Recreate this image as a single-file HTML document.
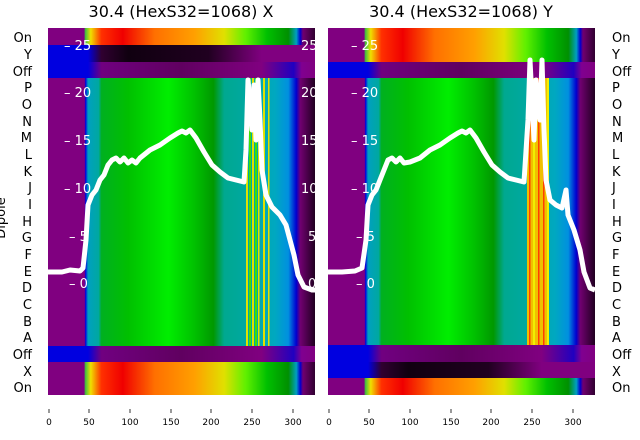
<!DOCTYPE html>
<html><head><meta charset="utf-8"><style>
html,body{margin:0;padding:0;background:#fff;}
svg{display:block;font-family:"DejaVu Sans","Liberation Sans",sans-serif;}
</style></head><body>
<svg width="640" height="440" viewBox="0 0 640 440" xmlns="http://www.w3.org/2000/svg">
<defs>
<linearGradient id="spec" x1="0" x2="1" y1="0" y2="0">
<stop offset="0" stop-color="#800080"/><stop offset="0.135" stop-color="#800080"/>
<stop offset="0.14" stop-color="#40c040"/><stop offset="0.16" stop-color="#f0e000"/>
<stop offset="0.2" stop-color="#ff3000"/><stop offset="0.28" stop-color="#f00000"/>
<stop offset="0.4" stop-color="#ff7000"/><stop offset="0.55" stop-color="#ffa000"/>
<stop offset="0.66" stop-color="#e0e000"/><stop offset="0.74" stop-color="#60f000"/>
<stop offset="0.82" stop-color="#00c000"/><stop offset="0.9" stop-color="#009000"/>
<stop offset="0.93" stop-color="#00a0c0"/><stop offset="0.945" stop-color="#0000d0"/>
<stop offset="0.955" stop-color="#700070"/><stop offset="1" stop-color="#300030"/>
</linearGradient>
<linearGradient id="main" x1="0" x2="1" y1="0" y2="0">
<stop offset="0" stop-color="#800080"/><stop offset="0.137" stop-color="#800080"/>
<stop offset="0.14" stop-color="#0000e0"/><stop offset="0.15" stop-color="#00a0c0"/>
<stop offset="0.19" stop-color="#00a8a0"/><stop offset="0.2" stop-color="#00b020"/>
<stop offset="0.3" stop-color="#00c000"/><stop offset="0.45" stop-color="#00ee00"/>
<stop offset="0.55" stop-color="#00c000"/><stop offset="0.62" stop-color="#009800"/>
<stop offset="0.66" stop-color="#00a890"/><stop offset="0.74" stop-color="#00a8a0"/>
<stop offset="0.85" stop-color="#00a8c0"/><stop offset="0.9" stop-color="#0090e0"/>
<stop offset="0.93" stop-color="#0000d0"/><stop offset="0.945" stop-color="#700070"/>
<stop offset="1" stop-color="#200020"/>
</linearGradient>
<linearGradient id="off" x1="0" x2="1" y1="0" y2="0">
<stop offset="0" stop-color="#0000e0"/><stop offset="0.15" stop-color="#0000e0"/>
<stop offset="0.2" stop-color="#700080"/><stop offset="0.5" stop-color="#600060"/>
<stop offset="0.8" stop-color="#800080"/><stop offset="0.92" stop-color="#2000c0"/>
<stop offset="0.95" stop-color="#800090"/><stop offset="1" stop-color="#800080"/>
</linearGradient>
<linearGradient id="blk" x1="0" x2="1" y1="0" y2="0">
<stop offset="0" stop-color="#0000e0"/><stop offset="0.15" stop-color="#0000e0"/>
<stop offset="0.2" stop-color="#300030"/><stop offset="0.3" stop-color="#100010"/>
<stop offset="0.6" stop-color="#200020"/><stop offset="0.8" stop-color="#800080"/>
<stop offset="1" stop-color="#800080"/>
</linearGradient>
</defs>
<!-- titles -->
<text x="181" y="17" font-size="16" text-anchor="middle">30.4 (HexS32=1068) X</text>
<text x="461" y="17" font-size="16" text-anchor="middle">30.4 (HexS32=1068) Y</text>
<!-- left panel -->
<rect x="48" y="28" width="267" height="17" fill="url(#spec)"/>
<rect x="48" y="45" width="267" height="17" fill="url(#blk)"/>
<rect x="48" y="62" width="267" height="16" fill="url(#off)"/>
<rect x="48" y="78" width="267" height="268" fill="url(#main)"/>
<g fill="#e0e000"><rect x="246" y="78" width="2" height="268"/><rect x="252" y="78" width="2" height="268"/><rect x="258" y="78" width="1.5" height="268"/><rect x="263" y="78" width="2" height="268"/><rect x="268" y="78" width="1.5" height="268"/></g>
<g fill="#40e000"><rect x="249" y="78" width="2" height="268"/><rect x="255" y="78" width="2" height="268"/></g>
<rect x="48" y="346" width="267" height="16" fill="url(#off)"/>
<rect x="48" y="362" width="267" height="33" fill="url(#spec)"/>
<!-- right panel -->
<rect x="328" y="28" width="267" height="34" fill="url(#spec)"/>
<rect x="328" y="62" width="267" height="16" fill="url(#off)"/>
<rect x="328" y="78" width="267" height="267" fill="url(#main)"/>
<rect x="527" y="78" width="22" height="267" fill="#f0c000"/>
<g fill="#ff4000"><rect x="529" y="78" width="1.5" height="267"/><rect x="538" y="78" width="1.5" height="267"/><rect x="543" y="78" width="1.5" height="267"/></g>
<g fill="#f0f000"><rect x="533" y="78" width="2" height="267"/><rect x="547" y="78" width="2" height="267"/></g>
<rect x="328" y="345" width="267" height="17" fill="url(#off)"/>
<rect x="328" y="362" width="267" height="16" fill="url(#blk)"/>
<rect x="328" y="378" width="267" height="17" fill="url(#spec)"/>
<!-- white curves -->
<polyline fill="none" stroke="#fff" stroke-width="5" stroke-linejoin="round" points="48,272 62,272 70,270 80,271 83,268 86,240 88,205 92,195 96,190 100,180 104,175 108,165 112,160 116,158 120,162 124,158 128,163 132,160 136,163 140,158 150,150 160,145 170,138 178,133 182,131 186,133 190,130 196,138 204,152 212,165 220,172 228,178 236,180 244,182 246,150 248,80 250,100 252,130 254,85 256,140 258,80 260,120 262,170 266,195 272,207 280,215 286,225 290,240 294,255 298,275 304,287 312,290 315,290"/>
<polyline fill="none" stroke="#fff" stroke-width="5" stroke-linejoin="round" points="328,272 342,272 355,271 362,268 366,240 368,205 372,195 376,190 380,180 384,170 388,160 392,158 396,162 400,158 404,163 410,162 420,158 430,150 440,145 450,138 458,133 462,131 466,133 470,130 476,138 484,152 492,165 500,172 508,178 516,180 524,182 528,120 530,60 532,100 534,140 536,80 538,110 540,120 542,60 544,130 546,180 550,200 556,205 562,208 566,190 568,215 574,230 580,250 584,272 590,288 595,290"/>
<!-- tick labels inside (white) -->
<g fill="#fff" font-size="13">
<text x="64" y="50">– 25</text><text x="64" y="97">– 20</text><text x="64" y="145">– 15</text><text x="64" y="193">– 10</text><text x="69" y="241">– 5</text><text x="69" y="288">– 0</text>
<text x="301" y="50">25</text><text x="301" y="97">20</text><text x="301" y="145">15</text><text x="301" y="193">10</text><text x="308" y="241">5</text><text x="308" y="288">0</text>
<text x="351" y="50">– 25</text><text x="351" y="97">– 20</text><text x="351" y="145">– 15</text><text x="351" y="193">– 10</text><text x="356" y="241">– 5</text><text x="356" y="288">– 0</text>
</g>
<!-- row labels -->
<g font-size="13" fill="#000">
<g text-anchor="end">
<text x="32" y="42">On</text><text x="32" y="59">Y</text><text x="32" y="76">Off</text><text x="32" y="92">P</text><text x="32" y="109">O</text><text x="32" y="126">N</text><text x="32" y="142">M</text><text x="32" y="159">L</text><text x="32" y="176">K</text><text x="32" y="192">J</text><text x="32" y="209">I</text><text x="32" y="226">H</text><text x="32" y="242">G</text><text x="32" y="259">F</text><text x="32" y="276">E</text><text x="32" y="292">D</text><text x="32" y="309">C</text><text x="32" y="326">B</text><text x="32" y="342">A</text><text x="32" y="359">Off</text><text x="32" y="376">X</text><text x="32" y="392">On</text>
</g>
<g>
<text x="612" y="42">On</text><text x="612" y="59">Y</text><text x="612" y="76">Off</text><text x="612" y="92">P</text><text x="612" y="109">O</text><text x="612" y="126">N</text><text x="612" y="142">M</text><text x="612" y="159">L</text><text x="612" y="176">K</text><text x="612" y="192">J</text><text x="612" y="209">I</text><text x="612" y="226">H</text><text x="612" y="242">G</text><text x="612" y="259">F</text><text x="612" y="276">E</text><text x="612" y="292">D</text><text x="612" y="309">C</text><text x="612" y="326">B</text><text x="612" y="342">A</text><text x="612" y="359">Off</text><text x="612" y="376">X</text><text x="612" y="392">On</text>
</g>
<text transform="translate(5,218) rotate(-90)" text-anchor="middle" font-size="13">Dipole</text>
</g>
<!-- x ticks -->
<g stroke="#000" stroke-width="0.8">
<line x1="49" y1="409" x2="49" y2="413"/><line x1="89" y1="409" x2="89" y2="413"/><line x1="130" y1="409" x2="130" y2="413"/><line x1="171" y1="409" x2="171" y2="413"/><line x1="211" y1="409" x2="211" y2="413"/><line x1="252" y1="409" x2="252" y2="413"/><line x1="293" y1="409" x2="293" y2="413"/>
<line x1="329" y1="409" x2="329" y2="413"/><line x1="369" y1="409" x2="369" y2="413"/><line x1="410" y1="409" x2="410" y2="413"/><line x1="451" y1="409" x2="451" y2="413"/><line x1="491" y1="409" x2="491" y2="413"/><line x1="532" y1="409" x2="532" y2="413"/><line x1="573" y1="409" x2="573" y2="413"/>
</g>
<g font-size="9" text-anchor="middle" fill="#000">
<text x="49" y="425">0</text><text x="89" y="425">50</text><text x="130" y="425">100</text><text x="171" y="425">150</text><text x="211" y="425">200</text><text x="252" y="425">250</text><text x="293" y="425">300</text>
<text x="329" y="425">0</text><text x="369" y="425">50</text><text x="410" y="425">100</text><text x="451" y="425">150</text><text x="491" y="425">200</text><text x="532" y="425">250</text><text x="573" y="425">300</text>
</g>
</svg>
</body></html>
